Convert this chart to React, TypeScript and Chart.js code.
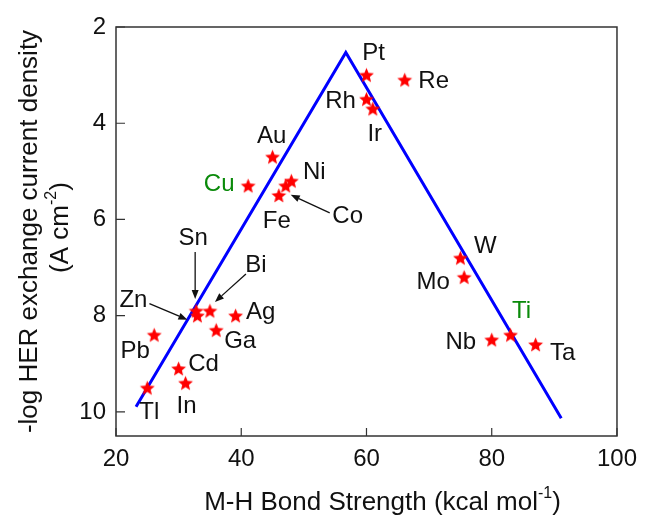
import React, { useEffect, useRef } from "react";
import { Chart, registerables } from "chart.js";

Chart.register(...registerables);

// ---- Data ----
const metals = ["Pt", "Re", "Rh", "Ir", "Au", "Cu", "Ni", "Co", "Fe", "Sn", "Zn", "Bi", "Ag", "Ga", "Pb", "Cd", "In", "Tl", "W", "Mo", "Ti", "Nb", "Ta"];
const bondStrength = [60.0, 66.1, 60.0, 61.0, 45.0, 41.1, 48.0, 47.1, 46.0, 32.8, 33.0, 35.0, 39.1, 36.0, 26.1, 30.0, 31.1, 25.0, 75.0, 75.6, 83.0, 80.0, 87.0];
const exchangeCurrent = [3.0, 3.1, 3.5, 3.7, 4.7, 5.3, 5.2, 5.3, 5.5, 7.9, 8.0, 7.9, 8.0, 8.3, 8.4, 9.1, 9.4, 9.5, 6.8, 7.2, 8.4, 8.5, 8.6];
const greenMetals = ["Cu", "Ti"];

const volcanoX = [23.2, 56.7, 91.1];
const volcanoY = [9.89, 2.53, 10.13];

const xTicks = [20, 40, 60, 80, 100];
const yTicks = [2, 4, 6, 8, 10];

// label placement (pixel offsets from each star)
const labelOffsets: Record<string, [number, number]> = {
  Pt: [7, -23], Re: [29, 0], Rh: [-26, 1], Ir: [2, 25], Au: [-1, -22], Cu: [-29, -2],
  Ni: [23, -10], Co: [62, 30], Fe: [-2, 25], Sn: [-3, -74], Zn: [-64, -16], Bi: [46, -47],
  Ag: [25, -4], Ga: [24, 10], Pb: [-19, 15], Cd: [25, -5], In: [1, 22], Tl: [2, 23],
  W: [25, -13], Mo: [-31, 4], Ti: [11, -25], Nb: [-31, 2], Ta: [27, 8],
};
// arrows: [metal, startDx, startDy, endDx, endDy]
const arrows: [string, number, number, number, number][] = [
  ["Co", 44, 27, 5, 9],
  ["Sn", -1, -59, -1, -12],
  ["Bi", 36, -37, 5, -9],
  ["Zn", -48, -12, -10, 4],
];

const FONT = "Arial, 'Liberation Sans', sans-serif";

function makeStar(): HTMLCanvasElement {
  const c = document.createElement("canvas");
  const s = 17;
  c.width = s;
  c.height = s;
  const ctx = c.getContext("2d")!;
  const cx = s / 2, cy = s / 2 + 0.6, R = 7.8, r = 3.5;
  ctx.beginPath();
  for (let i = 0; i < 10; i++) {
    const rad = i % 2 === 0 ? R : r;
    const a = -Math.PI / 2 + (i * Math.PI) / 5;
    const px = cx + rad * Math.cos(a);
    const py = cy + rad * Math.sin(a);
    if (i === 0) ctx.moveTo(px, py);
    else ctx.lineTo(px, py);
  }
  ctx.closePath();
  ctx.fillStyle = "#ff0000";
  ctx.fill();
  return c;
}

function drawSupText(ctx: CanvasRenderingContext2D, parts: [string, boolean][], cx: number, cy: number, size: number) {
  const supSize = Math.round(size * 0.6);
  let total = 0;
  for (const [t, sup] of parts) {
    ctx.font = `${sup ? supSize : size}px ${FONT}`;
    total += ctx.measureText(t).width;
  }
  let x = cx - total / 2;
  ctx.textBaseline = "middle";
  ctx.textAlign = "left";
  for (const [t, sup] of parts) {
    ctx.font = `${sup ? supSize : size}px ${FONT}`;
    ctx.fillText(t, x, sup ? cy - size * 0.38 : cy);
    x += ctx.measureText(t).width;
  }
}

const overlay = {
  id: "overlay",
  afterDatasetsDraw(chart: any) {
    const ctx: CanvasRenderingContext2D = chart.ctx;
    const xs = chart.scales.x;
    const ys = chart.scales.y;
    const a = chart.chartArea;
    ctx.save();
    // frame
    ctx.strokeStyle = "#333333";
    ctx.lineWidth = 1.5;
    ctx.strokeRect(a.left, a.top, a.right - a.left, a.bottom - a.top);
    // inward ticks
    ctx.lineWidth = 1.2;
    ctx.beginPath();
    for (const v of xTicks) {
      const px = xs.getPixelForValue(v);
      ctx.moveTo(px, a.bottom);
      ctx.lineTo(px, a.bottom - 8);
    }
    for (const v of yTicks) {
      const py = ys.getPixelForValue(v);
      ctx.moveTo(a.left, py);
      ctx.lineTo(a.left + 9, py);
    }
    ctx.stroke();

    // labels
    ctx.font = `24px ${FONT}`;
    ctx.textAlign = "center";
    ctx.textBaseline = "middle";
    metals.forEach((m, i) => {
      const px = xs.getPixelForValue(bondStrength[i]);
      const py = ys.getPixelForValue(exchangeCurrent[i]);
      const off = labelOffsets[m];
      ctx.fillStyle = greenMetals.includes(m) ? "#0a8a0a" : "#111111";
      ctx.fillText(m, px + off[0], py + off[1] + 1);
    });

    // arrows
    ctx.strokeStyle = "#111111";
    ctx.fillStyle = "#111111";
    ctx.lineWidth = 1.3;
    for (const [m, sx, sy, ex, ey] of arrows) {
      const i = metals.indexOf(m);
      const px = xs.getPixelForValue(bondStrength[i]);
      const py = ys.getPixelForValue(exchangeCurrent[i]);
      const x1 = px + sx, y1 = py + sy, x2 = px + ex, y2 = py + ey;
      const ang = Math.atan2(y2 - y1, x2 - x1);
      const hl = 9, hw = 3.5;
      const bx = x2 - hl * Math.cos(ang), by = y2 - hl * Math.sin(ang);
      ctx.beginPath();
      ctx.moveTo(x1, y1);
      ctx.lineTo(bx, by);
      ctx.stroke();
      ctx.beginPath();
      ctx.moveTo(x2, y2);
      ctx.lineTo(bx + hw * Math.sin(ang), by - hw * Math.cos(ang));
      ctx.lineTo(bx - hw * Math.sin(ang), by + hw * Math.cos(ang));
      ctx.closePath();
      ctx.fill();
    }

    // axis titles
    ctx.fillStyle = "#111111";
    drawSupText(ctx, [["M-H Bond Strength (kcal mol", false], ["-1", true], [")", false]], (a.left + a.right) / 2 + 16, 503, 26);
    const cy = (a.top + a.bottom) / 2;
    ctx.save();
    ctx.translate(30, cy);
    ctx.rotate(-Math.PI / 2);
    drawSupText(ctx, [["-log HER exchange current density", false]], 0, 0, 26);
    ctx.restore();
    ctx.save();
    ctx.translate(61, cy - 4);
    ctx.rotate(-Math.PI / 2);
    drawSupText(ctx, [["(A cm", false], ["-2", true], [")", false]], 0, 0, 26);
    ctx.restore();
    ctx.restore();
  },
};

export default function App() {
  const ref = useRef<HTMLCanvasElement>(null);
  useEffect(() => {
    document.body.style.margin = "0";
    const star = makeStar();
    const chart = new Chart(ref.current!, {
      type: "scatter",
      data: {
        datasets: [
          {
            label: "metals",
            data: bondStrength.map((x, i) => ({ x, y: exchangeCurrent[i] })),
            pointStyle: star as any,
            pointRadius: 8,
            showLine: false,
          },
          {
            label: "volcano",
            data: volcanoX.map((x, i) => ({ x, y: volcanoY[i] })),
            showLine: true,
            borderColor: "#0000ff",
            borderWidth: 3,
            pointRadius: 0,
            fill: false,
          },
        ],
      },
      options: {
        responsive: false,
        animation: false,
        layout: { padding: { top: 27, right: 23, left: 0, bottom: 0 } },
        plugins: { legend: { display: false }, tooltip: { enabled: false } },
        scales: {
          x: {
            type: "linear",
            min: 20,
            max: 100,
            grid: { display: false, drawTicks: false },
            border: { display: false },
            ticks: { stepSize: 20, padding: 9, color: "#111111", font: { size: 24, family: FONT } },
            afterFit: (s: any) => { s.height = 81; },
          },
          y: {
            type: "linear",
            reverse: true,
            min: 2,
            max: 10.5,
            grid: { display: false, drawTicks: false },
            border: { display: false },
            ticks: { stepSize: 2, includeBounds: false, padding: 10, color: "#111111", font: { size: 24, family: FONT } },
            afterFit: (s: any) => { s.width = 116; },
          },
        },
      },
      plugins: [overlay],
    });
    return () => chart.destroy();
  }, []);
  return <canvas ref={ref} width={646} height={517} style={{ display: "block" }} />;
}
